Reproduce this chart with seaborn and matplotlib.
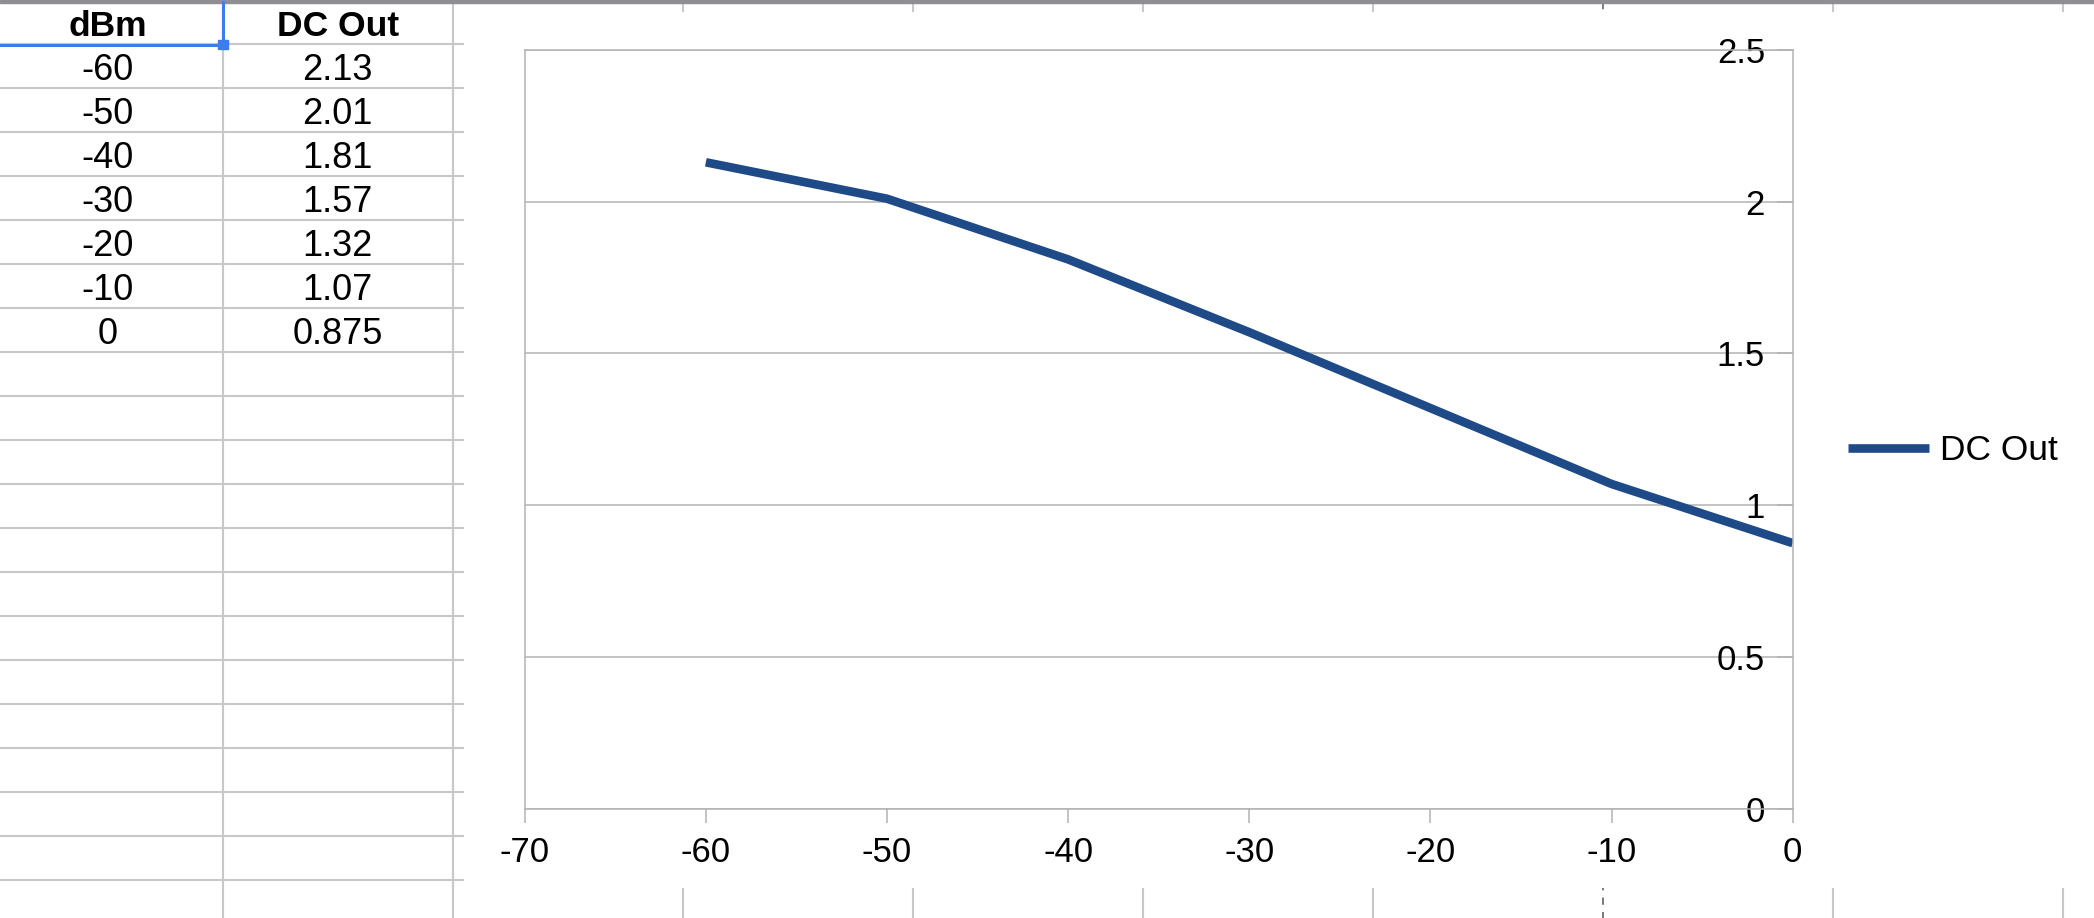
import matplotlib
matplotlib.use("Agg")
import matplotlib.pyplot as plt
import seaborn as sns
from matplotlib.patches import Rectangle

# data, as typed in the sheet
dbm = [-60, -50, -40, -30, -20, -10, 0]
dc_out = [2.13, 2.01, 1.81, 1.57, 1.32, 1.07, 0.875]
headers = ["dBm", "DC Out"]
x_ticks = [-70, -60, -50, -40, -30, -20, -10, 0]
y_ticks = [0, 0.5, 1, 1.5, 2, 2.5]

W, H = 2094, 918
LINE_BLUE = "#1e4a87"
GRID = "#b3b3b3"
SHEET = "#c8c8c8"
SELECT = "#3b7ded"

sns.set_style("white")
plt.rcParams["font.family"] = ["Liberation Sans", "DejaVu Sans"]
plt.rcParams["axes.unicode_minus"] = False
plt.rcParams["text.color"] = "black"

fig = plt.figure(figsize=(W / 100, H / 100), dpi=100)

# spreadsheet behind the chart, drawn in pixel coordinates
bg = fig.add_axes([0, 0, 1, 1])
bg.set_xlim(0, W)
bg.set_ylim(H, 0)
bg.axis("off")

row_h = 44
col_edges = [222.7 + 230 * i for i in range(9)]
for cx in col_edges:
    if abs(cx - 1602.7) < 1:
        # page break line
        bg.plot([cx, cx], [2, H], color="#6e6e6e", lw=1.3, dashes=(4, 4), zorder=1)
    else:
        bg.plot([cx, cx], [2, H], color=SHEET, lw=1.5, zorder=1)
for k in range(1, 21):
    bg.plot([0, W], [row_h * k] * 2, color=SHEET, lw=1.5, zorder=1)

bg.add_patch(Rectangle((0, 0), W, 2.5, color="#8e8e93", zorder=2))

# selected cell A1
bg.plot([0, 218], [44.5, 44.5], color=SELECT, lw=2.2, zorder=6)
bg.plot([222.7, 222.7], [2, 40], color=SELECT, lw=2.2, zorder=6)
bg.add_patch(Rectangle((218.3, 40), 9.4, 9.4, color=SELECT, zorder=7))

# table text
col_centers = [107.5, 337.7]
for cx, h in zip(col_centers, headers):
    bg.text(cx, 36, h, ha="center", va="baseline", fontsize=25.5,
            fontweight="bold", color="black", zorder=3)
for i, (a, b) in enumerate(zip(dbm, dc_out)):
    y = row_h * (i + 1) + 36
    bg.text(col_centers[0], y, f"{a:g}", ha="center", va="baseline",
            fontsize=26, color="black", zorder=3)
    bg.text(col_centers[1], y, f"{b:g}", ha="center", va="baseline",
            fontsize=26, color="black", zorder=3)

# chart object background
bg.add_patch(Rectangle((464, 12), W - 464, 876, facecolor="white",
                       edgecolor="none", zorder=5))

# chart
left, right, top, bottom = 524.7, 1792.7, 50, 808.7
ax = fig.add_axes([left / W, (H - bottom) / H, (right - left) / W, (bottom - top) / H])
ax.set_facecolor("white")

sns.lineplot(x=dbm, y=dc_out, ax=ax, color=LINE_BLUE, linewidth=6.2, label="DC Out")
ax.lines[0].set_solid_capstyle("butt")
ax.lines[0].set_solid_joinstyle("round")

ax.set_xlim(-70, 0)
ax.set_ylim(0, 2.5)
ax.set_xticks(x_ticks)
ax.set_xticklabels([f"{v:g}" for v in x_ticks])
ax.set_yticks(y_ticks)
ax.set_yticklabels([f"{v:g}" for v in y_ticks], va="center")
ax.set_xlabel("")
ax.set_ylabel("")

ax.grid(axis="y", color=GRID, lw=1.1)
ax.grid(axis="x", visible=False)
ax.set_axisbelow(True)

for s in ax.spines.values():
    s.set_visible(True)
    s.set_color(GRID)
    s.set_linewidth(1.1)
# y axis crosses at x = 0, so it sits on the right edge
ax.spines["left"].set_position(("data", 0))
ax.spines["right"].set_position(("data", -70))

ax.tick_params(axis="x", direction="out", length=10, width=1.1, color=GRID,
               pad=10, labelsize=25, labelcolor="black", bottom=True)
ax.tick_params(axis="y", direction="out", length=11.5, width=1.1, color=GRID,
               pad=8.4, labelsize=25, labelcolor="black", left=True, right=False)

leg = ax.legend(loc="center left", bbox_to_anchor=(1847.7 / W, 1 - 450.7 / H),
                bbox_transform=fig.transFigure, frameon=False, fontsize=25.5,
                handlelength=2.3, handletextpad=0.3, borderpad=0, borderaxespad=0)
for ln in leg.get_lines():
    ln.set_solid_capstyle("butt")
for t in leg.get_texts():
    t.set_color("black")

fig.savefig("out.png", dpi=100)
